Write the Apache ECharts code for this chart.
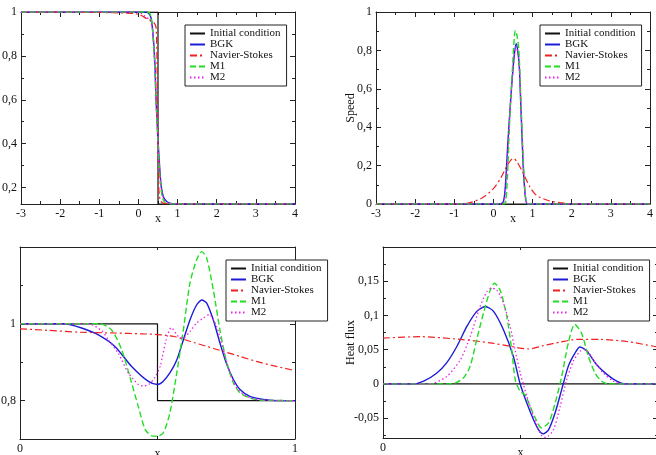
<!DOCTYPE html>
<html>
<head>
<meta charset="utf-8">
<script src="https://cdn.jsdelivr.net/npm/echarts@6/dist/echarts.min.js"></script>
<style>html,body{margin:0;padding:0;background:#fff}#chart{width:656px;height:455px}</style>
</head>
<body>
<div id="chart"></div>
<script>
const names = ['Initial condition', 'BGK', 'Navier-Stokes', 'M1', 'M2'];

// panel 1 : density, x in [-3,4]
const densInit = [[-3, 1], [0.5, 1], [0.5, 0.125], [4, 0.125]];
const densBGK = [[-3, 1], [0.2, 1], [0.3, 0.985], [0.34, 0.955], [0.38, 0.88], [0.42, 0.77], [0.45, 0.6], [0.5, 0.42], [0.54, 0.3], [0.58, 0.21], [0.64, 0.157], [0.73, 0.135], [0.85, 0.127], [1, 0.125], [4, 0.125]];
const densNS = [[-3, 1], [-1, 0.998], [-0.3, 0.995], [0, 0.99], [0.21, 0.97], [0.38, 0.955], [0.45, 0.93], [0.48, 0.7], [0.5, 0.4], [0.52, 0.2], [0.56, 0.14], [0.65, 0.128], [0.8, 0.125], [4, 0.125]];
const densM1 = [[-3, 1], [0.25, 1], [0.33, 0.97], [0.37, 0.9], [0.41, 0.78], [0.45, 0.6], [0.5, 0.4], [0.54, 0.27], [0.58, 0.19], [0.62, 0.15], [0.68, 0.132], [0.8, 0.126], [1, 0.125], [4, 0.125]];
const densM2 = [[-3, 1], [0, 1], [0.17, 0.98], [0.3, 0.96], [0.36, 0.92], [0.4, 0.82], [0.44, 0.66], [0.48, 0.48], [0.52, 0.34], [0.56, 0.24], [0.6, 0.18], [0.66, 0.145], [0.75, 0.13], [1, 0.125], [4, 0.125]];

// panel 2 : speed
const speedInit = [[-3, 0], [4, 0]];
const speedBGK = [[-3, 0], [0.15, 0], [0.25, 0.01], [0.3, 0.08], [0.375, 0.34], [0.46, 0.6], [0.53, 0.77], [0.58, 0.835], [0.62, 0.8], [0.66, 0.72], [0.7, 0.51], [0.76, 0.2], [0.82, 0.03], [0.88, 0], [4, 0]];
const speedNS = [[-3, 0], [-1, 0], [-0.7, 0.002], [-0.3, 0.03], [0, 0.08], [0.2, 0.14], [0.35, 0.2], [0.45, 0.23], [0.52, 0.237], [0.6, 0.22], [0.72, 0.177], [0.93, 0.09], [1.1, 0.045], [1.4, 0.018], [1.7, 0.007], [2.0, 0.001], [2.3, 0], [4, 0]];
const speedM1 = [[-3, 0], [0.28, 0], [0.32, 0.02], [0.36, 0.15], [0.42, 0.46], [0.49, 0.72], [0.53, 0.86], [0.56, 0.905], [0.6, 0.88], [0.65, 0.8], [0.7, 0.55], [0.76, 0.24], [0.8, 0.08], [0.84, 0.01], [0.88, 0], [4, 0]];
const speedM2 = [[-3, 0], [0.18, 0], [0.27, 0.01], [0.32, 0.1], [0.39, 0.36], [0.47, 0.62], [0.54, 0.78], [0.58, 0.82], [0.63, 0.78], [0.67, 0.68], [0.71, 0.48], [0.77, 0.18], [0.83, 0.02], [0.88, 0], [4, 0]];

// panel 3 : zoom on [0,1]
const tempInit = [[0, 1], [0.5, 1], [0.5, 0.8], [1, 0.8]];
const tempBGK = [[0, 1], [0.16, 1], [0.224, 0.989], [0.285, 0.971], [0.345, 0.941], [0.406, 0.889], [0.467, 0.85], [0.5, 0.842], [0.52, 0.85], [0.545, 0.872], [0.57, 0.906], [0.594, 0.958], [0.618, 1.01], [0.642, 1.049], [0.661, 1.062], [0.679, 1.054], [0.703, 1.01], [0.727, 0.95], [0.752, 0.894], [0.776, 0.855], [0.8, 0.829], [0.836, 0.811], [0.885, 0.803], [0.93, 0.8], [1, 0.8]];
const tempNS = [[0, 0.987], [0.1, 0.983], [0.22, 0.978], [0.345, 0.976], [0.44, 0.974], [0.5, 0.972], [0.56, 0.967], [0.62, 0.954], [0.68, 0.941], [0.74, 0.928], [0.8, 0.915], [0.86, 0.902], [0.92, 0.891], [1, 0.878]];
const tempM1 = [[0, 1], [0.29, 1], [0.333, 0.984], [0.37, 0.932], [0.406, 0.846], [0.43, 0.785], [0.455, 0.725], [0.479, 0.708], [0.497, 0.707], [0.521, 0.716], [0.545, 0.768], [0.57, 0.872], [0.594, 0.984], [0.618, 1.106], [0.642, 1.166], [0.661, 1.188], [0.679, 1.171], [0.703, 1.088], [0.727, 0.984], [0.752, 0.898], [0.776, 0.846], [0.8, 0.82], [0.836, 0.807], [0.88, 0.801], [1, 0.8]];
const tempM2 = [[0, 1], [0.25, 1], [0.3, 0.98], [0.321, 0.958], [0.357, 0.924], [0.394, 0.872], [0.43, 0.842], [0.45, 0.838], [0.47, 0.843], [0.49, 0.86], [0.51, 0.89], [0.53, 0.955], [0.55, 0.99], [0.576, 0.967], [0.594, 0.963], [0.618, 0.98], [0.642, 1.002], [0.667, 1.015], [0.688, 1.024], [0.715, 0.993], [0.739, 0.932], [0.764, 0.872], [0.788, 0.833], [0.824, 0.811], [0.87, 0.802], [1, 0.8]];

// panel 4 : heat flux
const fluxInit = [[0, 0], [1, 0]];
const fluxBGK = [[0, 0], [0.11, 0], [0.148, 0.004], [0.196, 0.016], [0.232, 0.031], [0.269, 0.055], [0.305, 0.084], [0.341, 0.106], [0.372, 0.113], [0.402, 0.106], [0.438, 0.079], [0.474, 0.04], [0.498, 0.001], [0.523, -0.028], [0.547, -0.052], [0.567, -0.068], [0.582, -0.073], [0.602, -0.067], [0.626, -0.042], [0.65, -0.008], [0.674, 0.026], [0.698, 0.045], [0.716, 0.054], [0.741, 0.048], [0.777, 0.028], [0.814, 0.014], [0.85, 0.004], [0.88, 0], [1, 0]];
const fluxNS = [[0, 0.067], [0.136, 0.069], [0.281, 0.065], [0.39, 0.06], [0.462, 0.055], [0.53, 0.051], [0.583, 0.056], [0.644, 0.061], [0.704, 0.065], [0.789, 0.065], [0.886, 0.062], [0.985, 0.055], [1, 0.054]];
const fluxM1 = [[0, 0], [0.25, 0], [0.293, 0.009], [0.317, 0.026], [0.341, 0.065], [0.365, 0.103], [0.39, 0.137], [0.405, 0.147], [0.426, 0.137], [0.45, 0.099], [0.468, 0.05], [0.481, 0.006], [0.499, -0.011], [0.517, -0.016], [0.535, -0.033], [0.559, -0.054], [0.575, -0.064], [0.602, -0.057], [0.626, -0.028], [0.65, 0.011], [0.674, 0.06], [0.697, 0.087], [0.722, 0.074], [0.747, 0.04], [0.771, 0.016], [0.795, 0.004], [0.82, 0], [1, 0]];
const fluxM2 = [[0, 0], [0.17, 0], [0.232, 0.011], [0.281, 0.035], [0.317, 0.069], [0.353, 0.113], [0.378, 0.135], [0.394, 0.14], [0.414, 0.137], [0.438, 0.118], [0.462, 0.084], [0.48, 0.05], [0.499, 0.016], [0.523, -0.018], [0.547, -0.047], [0.577, -0.076], [0.592, -0.078], [0.62, -0.067], [0.644, -0.033], [0.668, 0.006], [0.692, 0.033], [0.717, 0.048], [0.735, 0.05], [0.765, 0.035], [0.801, 0.016], [0.838, 0.004], [0.87, 0], [1, 0]];

// ticks
const xTicksWide = [-3, -2, -1, 0, 1, 2, 3, 4];
const xMinorWide = [-2.5, -1.5, -0.5, 0.5, 1.5, 2.5, 3.5];
const xTicksUnit = [0, 1];
const xMinorUnit = [0.5];
const yTicksDens = [0.2, 0.4, 0.6, 0.8, 1];
const yMinorDens = [0.3, 0.5, 0.7, 0.9];
const yTicksSpeed = [0, 0.2, 0.4, 0.6, 0.8, 1];
const yMinorSpeed = [0.1, 0.3, 0.5, 0.7, 0.9];
const yTicksTemp = [0.8, 1, 1.2];
const yLabelsTemp = [0.8, 1];
const yMinorTemp = [0.7, 0.9, 1.1];
const yTicksFlux = [-0.05, 0, 0.05, 0.1, 0.15, 0.2];
const yLabelsFlux = [-0.05, 0, 0.05, 0.1, 0.15];
const yMinorFlux = [-0.075, -0.025, 0.025, 0.075, 0.125, 0.175];

const FONT = 'Liberation Serif';
const fmt = v => String(+(+v).toFixed(3)).replace('.', ',');

const styles = [
  { color: '#111111', width: 1.2, type: 'solid' },
  { color: '#1c1cd8', width: 1.4, type: 'solid' },
  { color: '#f02020', width: 1.2, type: [7, 3, 2, 3] },
  { color: '#22dd22', width: 1.4, type: [6, 3] },
  { color: '#ee22ee', width: 1.3, type: [1.5, 2.5] }
];

const panels = [
  { grid: { left: 21, top: 12, width: 274, height: 192 }, x: [-3, 4, xTicksWide, xMinorWide, xTicksWide], y: [0.125, 1, yTicksDens, yMinorDens, yTicksDens], yName: '',
    data: [densInit, densBGK, densNS, densM1, densM2], legend: { left: 185, top: 25 } },
  { grid: { left: 376, top: 12, width: 274, height: 192 }, x: [-3, 4, xTicksWide, xMinorWide, xTicksWide], y: [0, 1, yTicksSpeed, yMinorSpeed, yTicksSpeed], yName: 'Speed', yGap: 19,
    data: [speedInit, speedBGK, speedNS, speedM1, speedM2], legend: { left: 540, top: 25 } },
  { grid: { left: 20, top: 247, width: 275, height: 192 }, x: [0, 1, xTicksUnit, xMinorUnit, xTicksUnit], y: [0.7, 1.2, yTicksTemp, yMinorTemp, yLabelsTemp], yName: '',
    data: [tempInit, tempBGK, tempNS, tempM1, tempM2], legend: { left: 226, top: 260 } },
  { grid: { left: 383, top: 247, width: 275, height: 191 }, x: [0, 1, xTicksUnit, xMinorUnit, xTicksUnit], y: [-0.079, 0.2, yTicksFlux, yMinorFlux, yLabelsFlux], yName: 'Heat flux', yGap: 26,
    data: [fluxInit, fluxBGK, fluxNS, fluxM1, fluxM2], legend: { left: 548, top: 260 } }
];

function makeAxes(dim, gi, spec, name, nameGap) {
  const [min, max, major, minor, labels] = spec;
  const sides = dim === 'x' ? ['bottom', 'top'] : ['left', 'right'];
  const out = [];
  sides.forEach((pos, s) => {
    [major, minor].forEach((vals, k) => {
      const main = s === 0 && k === 0;
      out.push({
        type: 'value', gridIndex: gi, position: pos, min, max,
        axisLine: { show: k === 0, onZero: false, lineStyle: { color: '#222', width: 1 } },
        splitLine: { show: false },
        axisTick: { show: true, inside: true, length: k === 0 ? 5 : 3, customValues: vals, lineStyle: { color: '#222', width: 1 } },
        axisLabel: { show: main, customValues: labels, formatter: fmt, color: '#111', fontFamily: FONT, fontSize: 12, margin: 4 },
        name: main ? name : '',
        nameLocation: 'middle', nameGap: nameGap, nameMoveOverlap: false,
        nameTextStyle: { color: '#111', fontFamily: FONT, fontSize: 12 }
      });
    });
  });
  return out;
}

const grid = [], xAxis = [], yAxis = [], legend = [], series = [];
panels.forEach((p, gi) => {
  grid.push(Object.assign({ containLabel: false, outerBoundsMode: 'none' }, p.grid));
  xAxis.push(...makeAxes('x', gi, p.x, 'x', 9));
  yAxis.push(...makeAxes('y', gi, p.y, p.yName, p.yGap || 20));
  legend.push(Object.assign({
    orient: 'vertical', data: names, itemGap: 0, itemWidth: 15, itemHeight: 10,
    backgroundColor: '#fff', borderColor: '#222', borderWidth: 1, borderRadius: 0, padding: [3, 6, 3, 4],
    selectedMode: false, itemStyle: { opacity: 0 },
    textStyle: { color: '#111', fontFamily: FONT, fontSize: 11, lineHeight: 11 }
  }, p.legend));
  p.data.forEach((d, i) => {
    series.push({
      name: names[i], type: 'line', data: d, xAxisIndex: gi * 4, yAxisIndex: gi * 4,
      showSymbol: false, symbol: 'none', smooth: i === 0 ? false : 0.25,
      lineStyle: styles[i], itemStyle: { color: styles[i].color },
      animation: false, z: i === 0 ? 3 : 2 + i, clip: true
    });
  });
});

const chart = echarts.init(document.getElementById('chart'), null, { renderer: 'canvas' });
chart.setOption({ backgroundColor: '#fff', animation: false, grid, xAxis, yAxis, legend, series });
</script>
</body>
</html>
